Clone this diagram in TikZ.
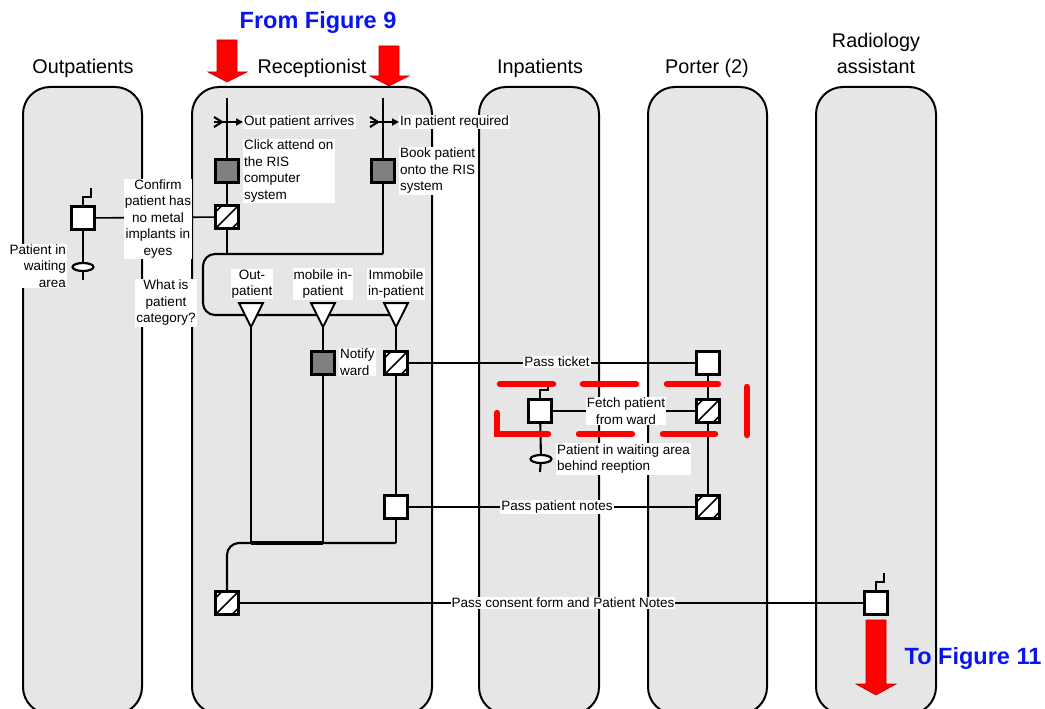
\documentclass[tikz,border=0pt]{standalone}
\usepackage{fontspec}
\setmainfont{Liberation Sans}
\usetikzlibrary{arrows.meta,calc,shapes.geometric}
\definecolor{lanegray}{HTML}{E6E6E6}
\definecolor{actgray}{HTML}{808080}
\definecolor{figblue}{HTML}{0A14F0}
\begin{document}
\begin{tikzpicture}[x=1pt,y=-1pt,
  lane/.style={draw=black, line width=2pt, fill=lanegray, rounded corners=27pt},
  hdr/.style={font=\fontsize{19.8}{26}\selectfont, align=center, inner sep=0pt},
  act/.style={draw=black, line width=2.9pt, minimum size=22.5pt, inner sep=0pt, fill=white},
  grayact/.style={act, fill=actgray},
  hatch/.style={act, path picture={
     \draw[line width=1.5pt] (path picture bounding box.south west) -- (path picture bounding box.north east);
     \draw[line width=1.5pt] ($(path picture bounding box.north west)+(0pt,-6pt)$) -- ($(path picture bounding box.north west)+(6pt,0pt)$);
     \draw[line width=1.5pt] ($(path picture bounding box.south east)+(-6pt,0pt)$) -- ($(path picture bounding box.south east)+(0pt,6pt)$);}},
  wait/.style={draw=black, line width=2.2pt, ellipse, minimum width=21pt, minimum height=8pt, inner sep=0pt, fill=white},
  tri/.style={draw=black, line width=2pt, fill=white},
  lbl/.style={fill=white, inner sep=1pt, font=\fontsize{13.5}{16.5}\selectfont},
  conn/.style={line width=2.1pt},
  link/.style={line width=1.6pt},
  flag/.style={line width=1.7pt},
  redarrow/.style={fill=red, draw=red!75!black, line width=0.6pt},
  reddash/.style={draw=red, line width=6.5pt, line cap=round},
  figtxt/.style={text=figblue, font=\fontsize{23.5}{26}\selectfont\bfseries, inner sep=0pt}]
\useasboundingbox (0,0) rectangle (1045,709);
\clip (0,0) rectangle (1045,709);
% lanes
\draw[lane] (23,87) rectangle (142,714);
\draw[lane] (192,87) rectangle (432,714);
\draw[lane] (479,87) rectangle (599,714);
\draw[lane] (648,87) rectangle (767,714);
\draw[lane] (816,87) rectangle (936,714);
% headers
\node[hdr, anchor=base] (hout) at (83,74) {Outpatients};
\node[hdr, anchor=base] (hrec) at (312,74) {Receptionist};
\node[hdr, anchor=base] (hinp) at (540,74) {Inpatients};
\node[hdr, anchor=base] (hpor) at (707,74) {Porter (2)};
\node[hdr, anchor=base] (hrad1) at (876,48) {Radiology};
\node[hdr, anchor=base] (hrad2) at (876,74) {assistant};
% activity nodes
\node[grayact] (g1) at (227,171) {};
\node[hatch] (h1) at (227,217) {};
\node[grayact] (g2) at (383,171) {};
\node[act] (osq) at (83,218) {};
\node[wait] (ell1) at (83,267) {};
\node[grayact] (g3) at (323,363) {};
\node[hatch] (h3) at (396,363) {};
\node[act] (w3) at (396,507) {};
\node[hatch] (h2) at (227,603) {};
\node[act] (p1) at (708,363) {};
\node[hatch] (p2) at (708,411) {};
\node[hatch] (p3) at (708,507) {};
\node[act] (i1) at (540,411) {};
\node[wait] (ell2) at (541,459) {};
\node[act] (r1) at (876,603) {};
% coordinates
\coordinate (atop) at (227,98);
\coordinate (btop) at (383,98);
\coordinate (bcorner) at (383,254);
\coordinate (ajoin) at (227,254);
\coordinate (t1) at (251,327);
\coordinate (t2) at (323,327);
\coordinate (t3) at (396,327);
\coordinate (b1) at (251,543);
\coordinate (b2) at (323,543);
\coordinate (b3) at (396,543);
\coordinate (oend) at (83,280);
\coordinate (iend) at (540,472);
% receptionist flow
\draw[conn] (atop) -- (g1);
\draw[conn] (g1) -- (h1);
\draw[conn] (h1) -- (ajoin);
\draw[conn] (btop) -- (g2);
\draw[conn] (g2) -- (bcorner);
\draw[conn, rounded corners=12pt] (bcorner) -- (203,254) -- (203,315) -- (396,315);
\draw[tri] (239,303) -- (263,303) -- (t1) -- cycle;
\draw[tri] (311,303) -- (335,303) -- (t2) -- cycle;
\draw[tri] (384,303) -- (408,303) -- (t3) -- cycle;
\draw[conn] (t1) -- (b1);
\draw[conn] (t2) -- (g3);
\draw[conn] (g3) -- (b2);
\draw[conn] (t3) -- (h3);
\draw[conn] (h3) -- (w3);
\draw[conn] (w3) -- (b3);
\draw[conn, rounded corners=12pt] (b3) -- (227,543) -- (h2.north);
\draw[line width=3.4pt] (b1) -- (b2);
% event markers
\draw[conn] (214,117) -- (222,122) -- (214,127);
\draw[conn, -{Triangle[length=7pt,width=7pt]}] (214,122) -- (243,122);
\draw[conn] (370,117) -- (378,122) -- (370,127);
\draw[conn, -{Triangle[length=7pt,width=7pt]}] (370,122) -- (399,122);
% outpatients
\draw[flag] (osq.north) -- ++(0,-8) -- ++(8,0) -- ++(0,-9);
\draw[conn] (osq) -- (ell1);
\draw[conn] (ell1) -- (oend);
\draw[link] (osq) -- (h1);
% porter / inpatients / radiology
\draw[link] (h3) -- (p1);
\draw[conn] (p1) -- (p2);
\draw[conn] (p2) -- (p3);
\draw[link] (i1) -- (p2);
\draw[flag] (i1.north) -- ++(0,-8) -- ++(8,0) -- ++(0,-9);
\draw[conn] (i1) -- (ell2);
\draw[conn] (ell2) -- (iend);
\draw[link] (w3) -- (p3);
\draw[link] (h2) -- (r1);
\draw[flag] (r1.north) -- ++(0,-8) -- ++(8,0) -- ++(0,-9);
% labels
\node[lbl, anchor=west] (lout) at (243,122) {Out patient arrives};
\node[lbl, anchor=west] (linp) at (399,122) {In patient required};
\node[lbl, anchor=west, align=left] (lclick) at (243,171) {Click attend on\\the RIS\\computer\\system};
\node[lbl, anchor=west, align=left] (lbook) at (399,171) {Book patient\\onto the RIS\\system};
\node[lbl, align=center] (lconf) at (158,219) {Confirm\\patient has\\no metal\\implants in\\eyes};
\node[lbl, anchor=east, align=right] (lwait) at (67,266) {Patient in\\waiting\\area};
\node[lbl, align=center] (lcat) at (166,303) {What is\\patient\\category?};
\node[lbl, align=center] (lc1) at (252,284) {Out-\\patient};
\node[lbl, align=center] (lc2) at (323,284) {mobile in-\\patient};
\node[lbl, align=center] (lc3) at (396,284) {Immobile\\in-patient};
\node[lbl, anchor=west, align=left] (lnot) at (339,362) {Notify\\ward};
\node[lbl] (lticket) at (557,362) {Pass ticket};
\node[lbl, align=center] (lfetch) at (626,411) {Fetch patient\\from ward};
\node[lbl, anchor=west, align=left] (lwait2) at (556,459) {Patient in waiting area\\behind reeption};
\node[lbl] (lnotes) at (557,507) {Pass patient notes};
\node[lbl] (lcons) at (563,603) {Pass consent form and Patient Notes};
% red dashed frame
\draw[reddash] (500,384) -- (553,384);
\draw[reddash] (583,384) -- (636,384);
\draw[reddash] (667,384) -- (718,384);
\draw[reddash] (747,387) -- (747,435);
\draw[reddash] (497,413) -- (497,434) -- (548,434);
\draw[reddash] (579,434) -- (632,434);
\draw[reddash] (663,434) -- (715,434);
% red arrows
\draw[redarrow] (217,40) -- (237,40) -- (237,72) -- (247,72) -- (227,82) -- (208,72) -- (217,72) -- cycle;
\draw[redarrow] (379,46) -- (399,46) -- (399,76) -- (409,76) -- (389,86) -- (370,76) -- (379,76) -- cycle;
\draw[redarrow] (866,620) -- (886,620) -- (886,684) -- (896,684) -- (876,695) -- (856,684) -- (866,684) -- cycle;
% figure references
\node[figtxt] (from9) at (318,22) {From Figure 9};
\node[figtxt] (to11) at (973,658) {To Figure 11};
\end{tikzpicture}
\end{document}
